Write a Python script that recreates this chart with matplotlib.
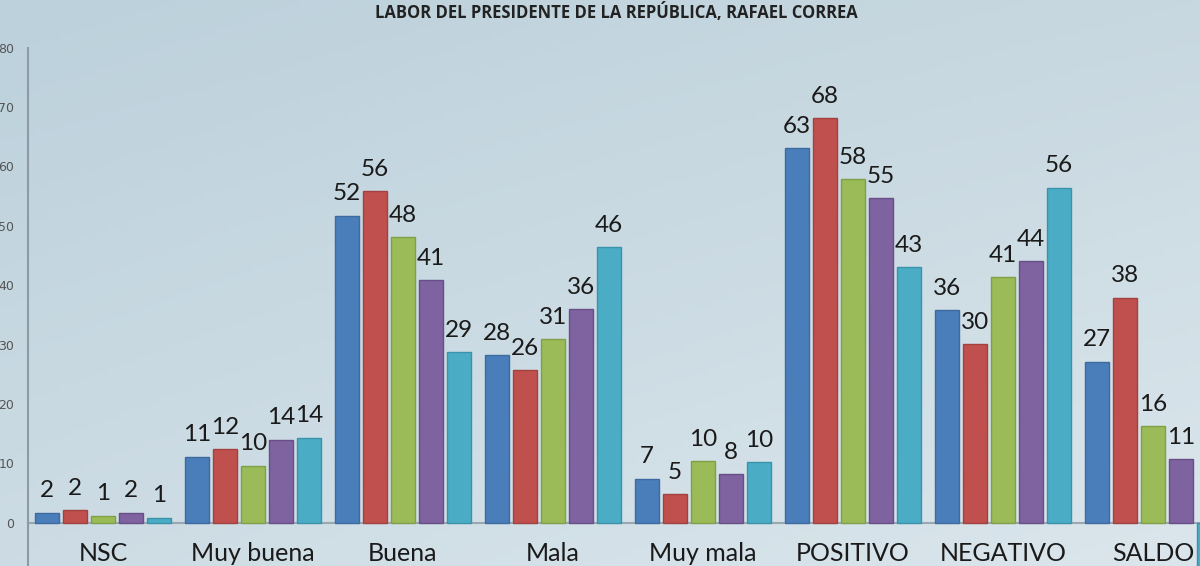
import numpy as np
import matplotlib
matplotlib.use('Agg')
import matplotlib.pyplot as plt
from matplotlib.colors import to_rgb

# ---- data ----
title = "LABOR DEL PRESIDENTE DE LA REPÚBLICA, RAFAEL CORREA"
categories = ["NSC", "Muy buena", "Buena", "Mala", "Muy mala", "POSITIVO", "NEGATIVO", "SALDO"]
serie_1 = [1.7, 11.1, 51.7, 28.2, 7.4, 63.1, 35.8, 27.1]
serie_2 = [2.1, 12.4, 55.8, 25.7, 4.8, 68.1, 30.1, 37.9]
serie_3 = [1.2, 9.6, 48.1, 30.9, 10.4, 57.8, 41.4, 16.3]
serie_4 = [1.7, 14.0, 40.8, 36.0, 8.2, 54.6, 44.0, 10.7]
serie_5 = [0.85, 14.3, 28.7, 46.4, 10.2, 43.0, 56.4, -13.4]
yticks = [0, 10, 20, 30, 40, 50, 60, 70, 80]

series = [serie_1, serie_2, serie_3, serie_4, serie_5]
colors = ["#4a7ebb", "#c0504d", "#9bbb59", "#7f62a0", "#4bacc6"]
edges = ["#3d6a9f", "#a3413f", "#80a048", "#684f87", "#3a93aa"]

W, H = 1200, 566
fig = plt.figure(figsize=(W / 100, H / 100), dpi=100)

# background gradient
bg = fig.add_axes([0, 0, 1, 1], zorder=-5)
tl, tr = np.array(to_rgb("#bcd1dc")), np.array(to_rgb("#c8d8e0"))
bl, br = np.array(to_rgb("#cddce4")), np.array(to_rgb("#dbe6ec"))
xs = np.linspace(0, 1, 200)[None, :, None]
ys = np.linspace(0, 1, 100)[:, None, None]
img = (1 - ys) * ((1 - xs) * tl + xs * tr) + ys * ((1 - xs) * bl + xs * br)
bg.imshow(img, aspect='auto', extent=[0, 1, 0, 1], origin='upper')
bg.axis('off')

# main axes: x from 28px, 150px per group; y 0 at 522.7px, 5.94 px/unit
ppu = 5.94
y0 = 522.7
ymin, ymax = -20, 80
top_px = y0 - ymax * ppu
bot_px = y0 - ymin * ppu
left_px = 28
ax = fig.add_axes([left_px / W, (H - bot_px) / H, 1200 / W, (bot_px - top_px) / H])
ax.set_facecolor('none')
ax.set_xlim(-0.5, len(categories) - 0.5)
ax.set_ylim(ymin, ymax)

x = np.arange(len(categories))
pitch = 28 / 150
bw = 23.5 / 150
for i, (vals, c, ec) in enumerate(zip(series, colors, edges)):
    xpos = x + (i - 2) * pitch
    ax.bar(xpos, vals, width=bw, color=c, edgecolor=ec, linewidth=1, zorder=3)
    for xp, v in zip(xpos, vals):
        if v >= 0:
            ax.annotate(f"{v:.0f}", (xp, v), xytext=(0, 11), textcoords='offset points',
                        ha='center', va='baseline', fontsize=17.5, family='Lato',
                        color='#1a1a1a', zorder=5)
        else:
            ax.annotate(f"{v:.0f}", (xp, v), xytext=(0, -6), textcoords='offset points',
                        ha='center', va='top', fontsize=17.5, family='Lato',
                        color='#1a1a1a', zorder=5)

ax.axhline(0, color='#9aa8b0', lw=1.5, zorder=2)
for s in ['top', 'right', 'bottom']:
    ax.spines[s].set_visible(False)
ax.spines['left'].set_color('#8c9ba5')
ax.spines['left'].set_linewidth(1.5)
ax.set_xticks([])
ax.set_yticks(yticks)
ax.tick_params(axis='y', length=0, pad=10, labelsize=9, labelcolor='#555555')

for xi, cat in zip(x, categories):
    ax.text(xi, -3.3, cat, ha='center', va='top', fontsize=18, family='Lato',
            color='#1a1a1a', zorder=5)

fig.text(616 / W, 1 - 13 / H, title, ha='center', va='center', fontsize=12,
         fontweight='bold', family='Open Sans', color='#222222')

fig.savefig('out.png', dpi=100)
